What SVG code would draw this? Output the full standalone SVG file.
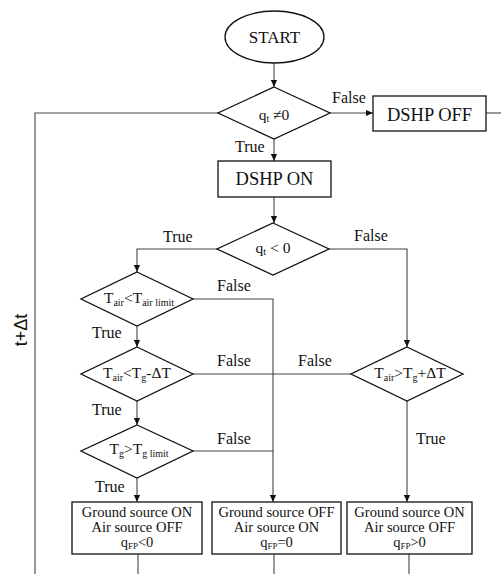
<svg xmlns="http://www.w3.org/2000/svg" width="501" height="574" viewBox="0 0 501 574">
<defs>
<marker id="ah" viewBox="0 0 8 8" refX="8" refY="4" markerWidth="7" markerHeight="7" markerUnits="userSpaceOnUse" orient="auto">
<path d="M0,0.5 L8,4 L0,7.5 Z" fill="#111"/>
</marker>
<style>
.shape{fill:#fff;stroke:#111;stroke-width:1.3}
.conn{fill:none;stroke:#444;stroke-width:1.1}
.arr{marker-end:url(#ah)}
.big{font-size:18.5px;text-anchor:middle}
.lbl{font-size:16px}
.dt{font-size:15.5px;text-anchor:middle}
.sub{font-size:10px}
.bt{font-size:14.5px;text-anchor:middle}
</style>
</defs>
<rect width="501" height="574" fill="#fff"/>
<g id="connectors">
<path class="conn arr" d="M274,63 V87"/>
<path class="conn arr" d="M330,113 H373"/>
<path class="conn" d="M486,113 H501"/>
<path class="conn" d="M218,113 H35 V574"/>
<path class="conn arr" d="M274,139 V161"/>
<path class="conn arr" d="M274,197 V223"/>
<path class="conn arr" d="M217,249 H137 V272"/>
<path class="conn arr" d="M329,249 H407 V347"/>
<path class="conn arr" d="M137,326 V347"/>
<path class="conn arr" d="M137,401 V425"/>
<path class="conn arr" d="M137,478 V502"/>
<path class="conn arr" d="M193,299 H273 V502"/>
<path class="conn" d="M193,451 H273"/>
<path class="conn" d="M193,374 H351"/>
<path class="conn arr" d="M407,401 V502"/>
<path class="conn" d="M138,554 V574"/>
<path class="conn" d="M274,554 V574"/>
<path class="conn" d="M409,554 V574"/>
</g>
<g id="labels" fill="#111">
<text font-family="Liberation Serif" class="lbl" x="332" y="103">False</text>
<text font-family="Liberation Serif" class="lbl" x="235" y="152">True</text>
<text font-family="Liberation Serif" class="lbl" x="163" y="242">True</text>
<text font-family="Liberation Serif" class="lbl" x="354" y="241">False</text>
<text font-family="Liberation Serif" class="lbl" x="217" y="291">False</text>
<text font-family="Liberation Serif" class="lbl" x="92" y="338">True</text>
<text font-family="Liberation Serif" class="lbl" x="217" y="366">False</text>
<text font-family="Liberation Serif" class="lbl" x="298" y="366">False</text>
<text font-family="Liberation Serif" class="lbl" x="92" y="415">True</text>
<text font-family="Liberation Serif" class="lbl" x="217" y="444">False</text>
<text font-family="Liberation Serif" class="lbl" x="95" y="492">True</text>
<text font-family="Liberation Serif" class="lbl" x="416" y="444">True</text>
<text x="27" y="330" transform="rotate(-90 27 330)" font-family="Liberation Sans" font-size="18" text-anchor="middle">t+Δt</text>
</g>
<g id="start" fill="#111">
<ellipse class="shape" cx="274.5" cy="37" rx="49.5" ry="26"/>
<text font-family="Liberation Serif" class="big" x="274.5" y="43" font-size="17" style="font-size:17px">START</text>
</g>
<g id="d-qt-ne0" fill="#111">
<path class="shape" d="M274,87 L330,113 L274,139 L218,113 Z"/>
<text font-family="Liberation Serif" class="dt" x="274" y="120">q<tspan class="sub" dy="2">t</tspan><tspan dy="-2"> ≠0</tspan></text>
</g>
<g id="dshp-off" fill="#111">
<rect class="shape" x="373" y="96" width="113" height="35"/>
<text font-family="Liberation Serif" class="big" x="429.5" y="121">DSHP OFF</text>
</g>
<g id="dshp-on" fill="#111">
<rect class="shape" x="218" y="161" width="113" height="36"/>
<text font-family="Liberation Serif" class="big" x="274.5" y="185">DSHP ON</text>
</g>
<g id="d-qt-lt0" fill="#111">
<path class="shape" d="M273,223 L329,249 L273,275 L217,249 Z"/>
<text font-family="Liberation Serif" class="dt" x="273" y="253">q<tspan class="sub" dy="2">t</tspan><tspan dy="-2"> &lt; 0</tspan></text>
</g>
<g id="d-tair-limit" fill="#111">
<path class="shape" d="M137,272 L193,299 L137,326 L81,299 Z"/>
<text font-family="Liberation Serif" class="dt" x="139" y="303">T<tspan class="sub" dy="3">air</tspan><tspan dy="-3">&lt;T</tspan><tspan class="sub" dy="3">air limit</tspan></text>
</g>
<g id="d-tair-tg-minus" fill="#111">
<path class="shape" d="M137,347 L193,374 L137,401 L81,374 Z"/>
<text font-family="Liberation Serif" class="dt" x="137" y="378">T<tspan class="sub" dy="3">air</tspan><tspan dy="-3">&lt;T</tspan><tspan class="sub" dy="3">g</tspan><tspan dy="-3">-ΔT</tspan></text>
</g>
<g id="d-tg-limit" fill="#111">
<path class="shape" d="M137,425 L193,451 L137,478 L81,451 Z"/>
<text font-family="Liberation Serif" class="dt" x="139" y="454">T<tspan class="sub" dy="3">g</tspan><tspan dy="-3">&gt;T</tspan><tspan class="sub" dy="3">g limit</tspan></text>
</g>
<g id="d-tair-tg-plus" fill="#111">
<path class="shape" d="M407,347 L463,374 L407,401 L351,374 Z"/>
<text font-family="Liberation Serif" class="dt" x="410" y="378">T<tspan class="sub" dy="3">air</tspan><tspan dy="-3">&gt;T</tspan><tspan class="sub" dy="3">g</tspan><tspan dy="-3">+ΔT</tspan></text>
</g>
<g id="box-ground-on-1" fill="#111">
<rect class="shape" x="72" y="502" width="130" height="52"/>
<text font-family="Liberation Serif" class="bt" x="137" y="517">Ground source ON</text>
<text font-family="Liberation Serif" class="bt" x="137" y="532">Air source OFF</text>
<text font-family="Liberation Serif" class="bt" x="137" y="547">q<tspan font-size="9" dy="2">FP</tspan><tspan dy="-2">&lt;0</tspan></text>
</g>
<g id="box-air-on" fill="#111">
<rect class="shape" x="212" y="502" width="129" height="52"/>
<text font-family="Liberation Serif" class="bt" x="276.5" y="517">Ground source OFF</text>
<text font-family="Liberation Serif" class="bt" x="276.5" y="532">Air source ON</text>
<text font-family="Liberation Serif" class="bt" x="276.5" y="547">q<tspan font-size="9" dy="2">FP</tspan><tspan dy="-2">=0</tspan></text>
</g>
<g id="box-ground-on-2" fill="#111">
<rect class="shape" x="347" y="502" width="125" height="52"/>
<text font-family="Liberation Serif" class="bt" x="409.5" y="517">Ground source ON</text>
<text font-family="Liberation Serif" class="bt" x="409.5" y="532">Air source OFF</text>
<text font-family="Liberation Serif" class="bt" x="409.5" y="547">q<tspan font-size="9" dy="2">FP</tspan><tspan dy="-2">&gt;0</tspan></text>
</g>
</svg>
